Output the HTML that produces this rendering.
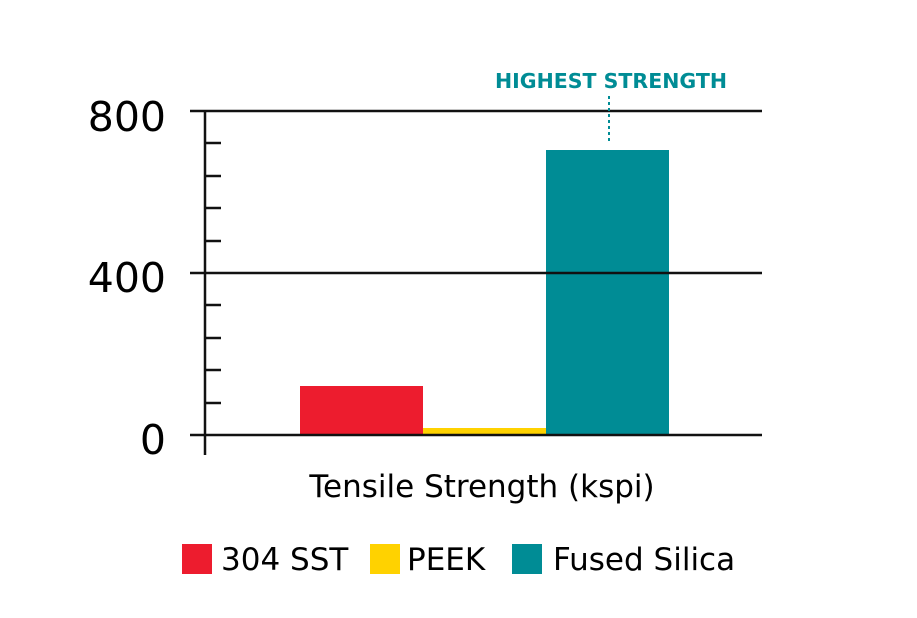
<!DOCTYPE html>
<html><head><style>body{margin:0;background:#fff}</style></head><body>
<svg width="917" height="613" xmlns="http://www.w3.org/2000/svg" font-family="DejaVu Sans, sans-serif">
<rect width="917" height="613" fill="#fff"/>
<rect x="300" y="386" width="123" height="49" fill="#ed1c2e"/>
<rect x="423" y="428" width="123" height="7" fill="#ffd200"/>
<rect x="546" y="150" width="123" height="285" fill="#008c95"/>
<g stroke="#111" stroke-width="2.5">
<line x1="190" y1="111" x2="762" y2="111"/>
<line x1="190" y1="273" x2="762" y2="273"/>
<line x1="190" y1="435" x2="762" y2="435"/>
<line x1="205" y1="111" x2="205" y2="455"/>
<line x1="205" y1="143" x2="221" y2="143"/>
<line x1="205" y1="176" x2="221" y2="176"/>
<line x1="205" y1="208" x2="221" y2="208"/>
<line x1="205" y1="241" x2="221" y2="241"/>
<line x1="205" y1="305" x2="221" y2="305"/>
<line x1="205" y1="338" x2="221" y2="338"/>
<line x1="205" y1="370" x2="221" y2="370"/>
<line x1="205" y1="403" x2="221" y2="403"/>
</g>
<line x1="609" y1="96" x2="609" y2="143" stroke="#008c95" stroke-width="2" stroke-dasharray="3,3"/>
<text x="611" y="88" text-anchor="middle" font-size="20.5" font-weight="bold" fill="#008c95">HIGHEST STRENGTH</text>
<g font-size="41" text-anchor="end" fill="#000">
<text x="166" y="131">800</text>
<text x="166" y="292">400</text>
<text x="166" y="454">0</text>
</g>
<text x="482" y="497" text-anchor="middle" font-size="31">Tensile Strength (kspi)</text>
<rect x="182" y="544" width="30" height="30" fill="#ed1c2e"/>
<rect x="370" y="544" width="30" height="30" fill="#ffd200"/>
<rect x="512" y="544" width="30" height="30" fill="#008c95"/>
<g font-size="31">
<text x="221" y="570">304 SST</text>
<text x="407" y="570">PEEK</text>
<text x="553" y="570">Fused Silica</text>
</g>
</svg>
</body></html>
